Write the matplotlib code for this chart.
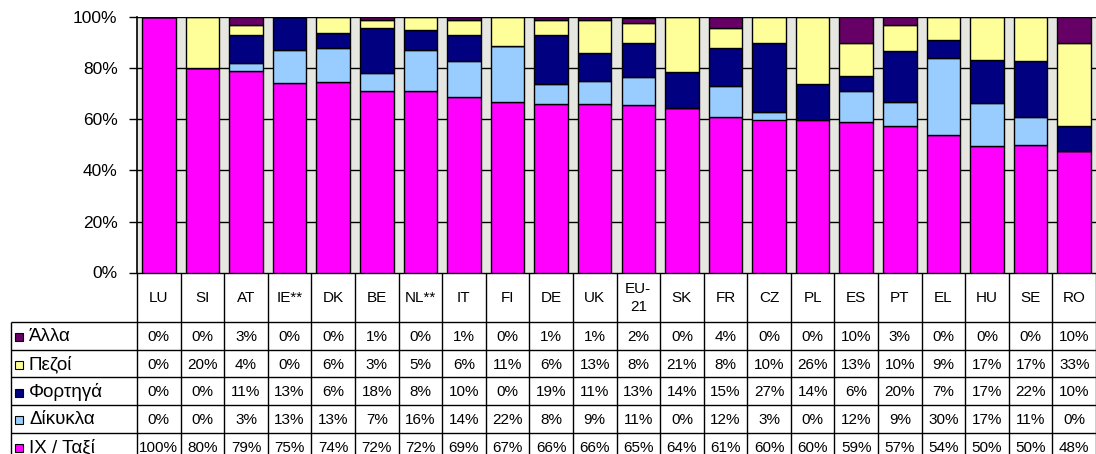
import numpy as np
import matplotlib
matplotlib.use("Agg")
import matplotlib.pyplot as plt
from matplotlib.patches import Rectangle
from matplotlib.ticker import PercentFormatter

plt.rcParams['font.family'] = ['Liberation Sans', 'DejaVu Sans']

# ─── data (percent shares per country) ───────────────────────────────────────
countries = ['LU', 'SI', 'AT', 'IE**', 'DK', 'BE', 'NL**', 'IT', 'FI', 'DE', 'UK',
             'EU-\n21', 'SK', 'FR', 'CZ', 'PL', 'ES', 'PT', 'EL', 'HU', 'SE', 'RO']

ix_taxi  = [100, 80, 79, 75, 74, 72, 72, 69, 67, 66, 66, 65, 64, 61, 60, 60, 59, 57, 54, 50, 50, 48]
dikykla  = [0, 0, 3, 13, 13, 7, 16, 14, 22, 8, 9, 11, 0, 12, 3, 0, 12, 9, 30, 17, 11, 0]
fortiga  = [0, 0, 11, 13, 6, 18, 8, 10, 0, 19, 11, 13, 14, 15, 27, 14, 6, 20, 7, 17, 22, 10]
pezoi    = [0, 20, 4, 0, 6, 3, 5, 6, 11, 6, 13, 8, 21, 8, 10, 26, 13, 10, 9, 17, 17, 33]
alla     = [0, 0, 3, 0, 0, 1, 0, 1, 0, 1, 1, 2, 0, 4, 0, 0, 10, 3, 0, 0, 0, 10]

# stacking order, bottom -> top
series = [
    ('ΙΧ / Ταξί', ix_taxi, '#FF00FF'),
    ('Δίκυκλα',   dikykla, '#99CCFF'),
    ('Φορτηγά',   fortiga, '#000080'),
    ('Πεζοί',     pezoi,   '#FFFF99'),
    ('Άλλα',      alla,    '#660066'),
]

# ─── figure / bars ────────────────────────────────────────────────────────────
W, H = 1096, 454
fig = plt.figure(figsize=(W / 100, H / 100), dpi=100)
ax_l, ax_top, ax_r, ax_bot = 137, 17.5, 1096, 272.5
ax = fig.add_axes([ax_l / W, (H - ax_bot) / H, (ax_r - ax_l) / W, (ax_bot - ax_top) / H])
ax.set_facecolor('#E7E7E2')

x = np.arange(len(countries))
totals = np.sum([np.array(v, float) for _, v, _ in series], axis=0)   # 100% stacked
bottom = np.zeros(len(countries))
for name, vals, col in series:
    share = np.array(vals, float) / totals
    ax.bar(x, share, 0.77, bottom=bottom, color=col, edgecolor='black',
           linewidth=1, zorder=3)
    bottom += share

ax.set_xlim(-0.5, len(countries) - 0.5)
ax.set_ylim(0, 1)
ax.set_yticks(np.linspace(0, 1, 6))
ax.yaxis.set_major_formatter(PercentFormatter(1.0, decimals=0))
ax.yaxis.grid(True, color='black', linewidth=1, zorder=1)
ax.set_axisbelow(True)
ax.tick_params(axis='y', length=6, width=1, pad=8, labelsize=12.5)
ax.tick_params(axis='x', length=0, labelbottom=False)
for s in ['top', 'right', 'bottom']:
    ax.spines[s].set_visible(False)
ax.spines['left'].set_linewidth(1.2)

# ─── data table (overlay axes in pixel units) ────────────────────────────────
tab_left = 10.7
hdr_h, row_h = 49.5, 27.7
col_w = (ax_r - ax_l) / len(countries)
n_rows = len(series)

tb = fig.add_axes([0, 0, 1, 1], zorder=-1)
tb.set_xlim(0, W)
tb.set_ylim(H, 0)
tb.axis('off')

hdr_bot = ax_bot + hdr_h
tab_bot = hdr_bot + row_h * n_rows
col_edges = ax_l + col_w * np.arange(len(countries) + 1)
row_edges = hdr_bot + row_h * np.arange(n_rows + 1)

lk = dict(color='black', linewidth=1)
tb.vlines(col_edges, ax_bot, tab_bot, **lk)
tb.vlines(tab_left, hdr_bot, tab_bot, **lk)
tb.hlines(ax_bot, ax_l, ax_r, **lk)
tb.hlines(row_edges, tab_left, ax_r, **lk)

for j, c in enumerate(countries):
    tb.text(col_edges[j] + col_w / 2, ax_bot + hdr_h / 2 + 1, c, ha='center', va='center',
            fontsize=11, linespacing=1.4)

for i, (name, vals, col) in enumerate(series[::-1]):
    yc = hdr_bot + row_h * (i + 0.5)
    tb.add_patch(Rectangle((15, yc - 2.5), 8, 8, facecolor=col, edgecolor='black', linewidth=0.8))
    tb.text(29, yc + 1, name, ha='left', va='center', fontsize=13.5)
    for j, v in enumerate(vals):
        tb.text(col_edges[j] + col_w / 2, yc + 1, f'{v}%', ha='center', va='center', fontsize=11)

fig.savefig('out.png', dpi=100)
